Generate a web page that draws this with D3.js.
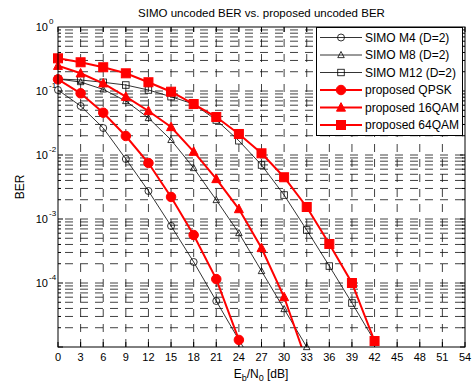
<!DOCTYPE html>
<html>
<head>
<meta charset="utf-8">
<script src="https://cdn.jsdelivr.net/npm/d3@7"></script>
<style>
  body { margin: 0; background: #fff; }
  svg { display: block; font-family: "Liberation Sans", Arial, Helvetica, sans-serif; }
</style>
</head>
<body>
<svg id="chart" width="474" height="382"></svg>
<script>
// ---- data ----
const snr = [0, 3, 6, 9, 12, 15, 18, 21, 24, 27, 30, 33, 36, 39, 42];
const xTicks = [0, 3, 6, 9, 12, 15, 18, 21, 24, 27, 30, 33, 36, 39, 42, 45, 48, 51, 54];
const yTickExps = [0, -1, -2, -3, -4];

const simoM4  = [0.1037, 0.0583, 0.0264, 0.00866, 0.00274, 0.000778, 0.000213, 5.23e-5, 1.29e-5, 3.4e-6];
const simoM8  = [0.154, 0.138, 0.106, 0.0698, 0.0379, 0.0172, 0.00626, 0.00198, 0.000604, 0.000154, 3.92e-5, 1.0e-5];
const simoM12 = [0.154, 0.1486, 0.1368, 0.124, 0.1037, 0.0814, 0.0626, 0.0352, 0.0167, 0.00698, 0.00237, 0.000673, 0.000184, 4.87e-5, 1.24e-5];
const propQPSK  = [0.152, 0.092, 0.0458, 0.0198, 0.0075, 0.00221, 0.000562, 0.000115, 1.29e-5];
const prop16QAM = [0.248, 0.189, 0.132, 0.0814, 0.0487, 0.0274, 0.01127, 0.00422, 0.00143, 0.000352, 6.04e-5, 5.9e-6];
const prop64QAM = [0.324, 0.281, 0.235, 0.189, 0.137, 0.0975, 0.0626, 0.0392, 0.0213, 0.01063, 0.00449, 0.00154, 0.000407, 0.0001, 1.24e-5];

const seriesNames = ["SIMO M4 (D=2)", "SIMO M8 (D=2)", "SIMO M12 (D=2)", "proposed QPSK", "proposed 16QAM", "proposed 64QAM"];
const seriesValues = [simoM4, simoM8, simoM12, propQPSK, prop16QAM, prop64QAM];
const seriesMarkers = ["circle", "triangle", "square", "circle", "triangle", "square"];
const seriesColors = ["#000", "#000", "#000", "#ff0000", "#ff0000", "#ff0000"];
const seriesFilled = [false, false, false, true, true, true];

// ---- layout ----
const L = 58, R = 465, T = 27, B = 347;
const svg = d3.select("#chart");
const x = d3.scaleLinear().domain([0, 54]).range([L, R]);
const y = d3.scaleLog().domain([1e-5, 1]).range([B, T]);

// grid
const grid = svg.append("g").attr("stroke", "#111").attr("stroke-width", 0.8)
  .attr("stroke-dasharray", "8,7").attr("fill", "none");
xTicks.slice(1, -1).forEach(t => {
  grid.append("line").attr("x1", x(t)).attr("x2", x(t)).attr("y1", B).attr("y2", T);
});
const yGridVals = [];
for (let e = -5; e < 0; e++) for (let m = 1; m <= 9; m++) yGridVals.push(m * Math.pow(10, e));
yGridVals.filter(v => v > 1e-5 && v < 1).forEach(v => {
  grid.append("line").attr("x1", L).attr("x2", R).attr("y1", y(v)).attr("y2", y(v))
    .attr("stroke-dashoffset", 8);
});

// ticks (inside)
const tk = svg.append("g").attr("stroke", "#000").attr("stroke-width", 1);
xTicks.forEach(t => {
  tk.append("line").attr("x1", x(t)).attr("x2", x(t)).attr("y1", B).attr("y2", B - 5);
  tk.append("line").attr("x1", x(t)).attr("x2", x(t)).attr("y1", T).attr("y2", T + 5);
});
yGridVals.filter(v => v >= 1e-5 && v <= 1).forEach(v => {
  const major = Math.abs(Math.log10(v) - Math.round(Math.log10(v))) < 1e-9;
  const len = major ? 5 : 3;
  tk.append("line").attr("x1", L).attr("x2", L + len).attr("y1", y(v)).attr("y2", y(v));
  tk.append("line").attr("x1", R).attr("x2", R - len).attr("y1", y(v)).attr("y2", y(v));
});

// clip
svg.append("clipPath").attr("id", "clip").append("rect")
  .attr("x", L).attr("y", T).attr("width", R - L).attr("height", B - T);

function marker(g, type, cx, cy, size, color, filled) {
  let el;
  if (type === "circle") {
    el = g.append("circle").attr("cx", cx).attr("cy", cy).attr("r", size / 2);
  } else if (type === "square") {
    el = g.append("rect").attr("x", cx - size / 2).attr("y", cy - size / 2).attr("width", size).attr("height", size);
  } else {
    const h = size * 0.9, w = size;
    el = g.append("path").attr("d", `M${cx},${cy - h * 0.6}L${cx + w / 2},${cy + h * 0.45}L${cx - w / 2},${cy + h * 0.45}Z`);
  }
  el.attr("fill", filled ? color : "none").attr("stroke", color).attr("stroke-width", filled ? 1 : 0.8);
}

const line = d3.line().x(d => x(d[0])).y(d => y(d[1]));
const plot = svg.append("g");
seriesValues.forEach((vals, i) => {
  const pts = vals.map((v, j) => [snr[j], v]);
  const red = seriesFilled[i];
  plot.append("path").attr("d", line(pts)).attr("clip-path", "url(#clip)")
    .attr("fill", "none").attr("stroke", seriesColors[i]).attr("stroke-width", red ? 2 : 0.8);
  const size = red ? (seriesMarkers[i] === "circle" ? 9.5 : 9) : (seriesMarkers[i] === "circle" ? 7 : 6.5);
  pts.filter(p => p[1] >= 1e-5 * 0.999 && p[1] <= 1).forEach(p => {
    marker(plot, seriesMarkers[i], x(p[0]), y(p[1]), size, seriesColors[i], red);
  });
});

// axes box
svg.append("rect").attr("x", L).attr("y", T).attr("width", R - L).attr("height", B - T)
  .attr("fill", "none").attr("stroke", "#000").attr("stroke-width", 1);

// tick labels
const lab = svg.append("g").attr("font-size", 11).attr("fill", "#000");
xTicks.forEach(t => {
  lab.append("text").attr("x", x(t)).attr("y", 361).attr("text-anchor", "middle").text(t);
});
yTickExps.forEach(e => {
  const yy = y(Math.pow(10, e));
  lab.append("text").attr("x", 48).attr("y", yy + 4).attr("text-anchor", "end").text("10");
  lab.append("text").attr("x", 49).attr("y", yy - 3).attr("font-size", 8).text(String(e));
});

// axis labels
const xl = svg.append("text").attr("x", 261).attr("y", 378).attr("text-anchor", "middle").attr("font-size", 12);
xl.append("tspan").text("E");
xl.append("tspan").attr("font-size", 9).attr("dy", 3).text("b");
xl.append("tspan").attr("dy", -3).text("/N");
xl.append("tspan").attr("font-size", 9).attr("dy", 3).text("0");
xl.append("tspan").attr("dy", -3).text(" [dB]");

svg.append("text").attr("transform", `translate(24,${(T + B) / 2}) rotate(-90)`)
  .attr("text-anchor", "middle").attr("font-size", 12).text("BER");

svg.append("text").attr("x", 261.5).attr("y", 17).attr("text-anchor", "middle")
  .attr("font-size", 11.5).text("SIMO uncoded BER vs. proposed uncoded BER");

// legend
const lg = svg.append("g");
lg.append("rect").attr("x", 316.5).attr("y", 27.5).attr("width", 146).attr("height", 108)
  .attr("fill", "#fff").attr("stroke", "#000").attr("stroke-width", 1);
seriesNames.forEach((name, i) => {
  const ry = 37.5 + i * 17.5;
  const red = seriesFilled[i];
  lg.append("line").attr("x1", 320).attr("x2", 362).attr("y1", ry).attr("y2", ry)
    .attr("stroke", seriesColors[i]).attr("stroke-width", red ? 2 : 0.8);
  const size = red ? (seriesMarkers[i] === "circle" ? 9.5 : 9) : (seriesMarkers[i] === "circle" ? 7 : 6.5);
  marker(lg, seriesMarkers[i], 341, ry, size, seriesColors[i], red);
  lg.append("text").attr("x", 365).attr("y", ry + 4).attr("font-size", 12).text(name);
});
</script>
</body>
</html>
